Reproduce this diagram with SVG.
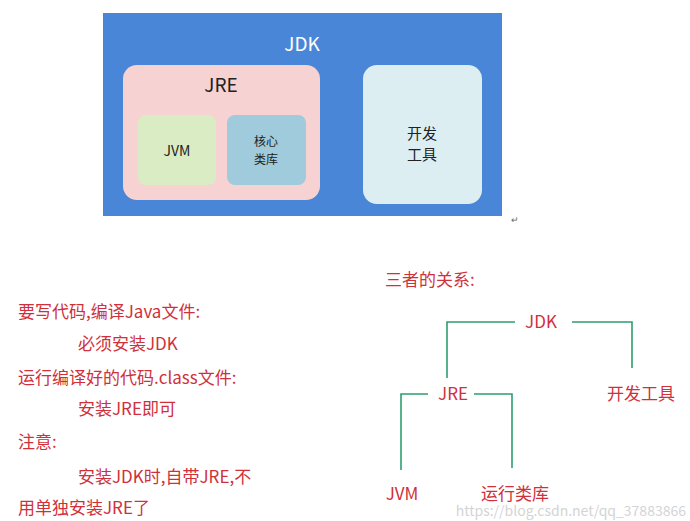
<svg xmlns="http://www.w3.org/2000/svg" width="690" height="521" viewBox="0 0 690 521">
<style>
text{font-family:"Noto Sans CJK SC","Noto Sans",sans-serif}
.w{fill:#222;font-size:14px;text-anchor:middle}
.r{fill:#d0303a;font-size:17px}
.c{text-anchor:middle}
.ln{stroke:#2e9e6e;stroke-width:1.6;fill:none}
</style>
<rect width="690" height="521" fill="#fff"/>
<g id="jdk"><rect x="103" y="13" width="399" height="203" fill="#4a86d8"/><text x="302" y="51" class="w" style="fill:#fff;font-size:19px">JDK</text></g>
<g id="jre"><rect x="123" y="65" width="197" height="135" rx="14" fill="#f7d2d2"/><text x="221" y="92" class="w" style="font-size:19px">JRE</text></g>
<g id="jvm"><rect x="138" y="115" width="78" height="70" rx="8" fill="#d9ecc3"/><text x="177" y="156" class="w">JVM</text></g>
<g id="lib"><rect x="227" y="115" width="79" height="70" rx="8" fill="#9fcbdc"/><text x="266" y="146" class="w" style="font-size:12px">核心</text><text x="266" y="164" class="w" style="font-size:12px">类库</text></g>
<g id="tools"><rect x="363" y="65" width="119" height="139" rx="14" fill="#ddeef3"/><text x="422" y="139" class="w" style="font-size:15px">开发</text><text x="422" y="160" class="w" style="font-size:15px">工具</text></g>
<text x="511" y="223" fill="#666" font-size="9" font-family="DejaVu Sans">↵</text>
<g id="notes" class="r">
<text x="18" y="318">要写代码,编译Java文件:</text>
<text x="78" y="350">必须安装JDK</text>
<text x="18" y="384">运行编译好的代码.class文件:</text>
<text x="78" y="415">安装JRE即可</text>
<text x="18" y="448">注意:</text>
<text x="78" y="483">安装JDK时,自带JRE,不</text>
<text x="18" y="514">用单独安装JRE了</text>
</g>
<g class="r"><text x="385" y="286">三者的关系:</text></g>
<g id="connectors">
<path class="ln" d="M515 322H447V378M572 322H632V368M428 394H401V470M474 394H512V468"/>
</g>
<g id="n-jdk" class="r"><text x="541" y="328" class="c">JDK</text></g>
<g id="n-jre" class="r"><text x="453" y="400" class="c">JRE</text></g>
<g id="n-tools" class="r"><text x="641" y="400" class="c">开发工具</text></g>
<g id="n-jvm" class="r"><text x="402" y="500" class="c">JVM</text></g>
<g id="n-lib" class="r"><text x="515" y="500" class="c">运行类库</text></g>
<text x="686" y="516" fill="#d4d4d4" font-size="14" text-anchor="end" font-family="Liberation Sans,sans-serif">https://blog.csdn.net/qq_37883866</text>
</svg>
